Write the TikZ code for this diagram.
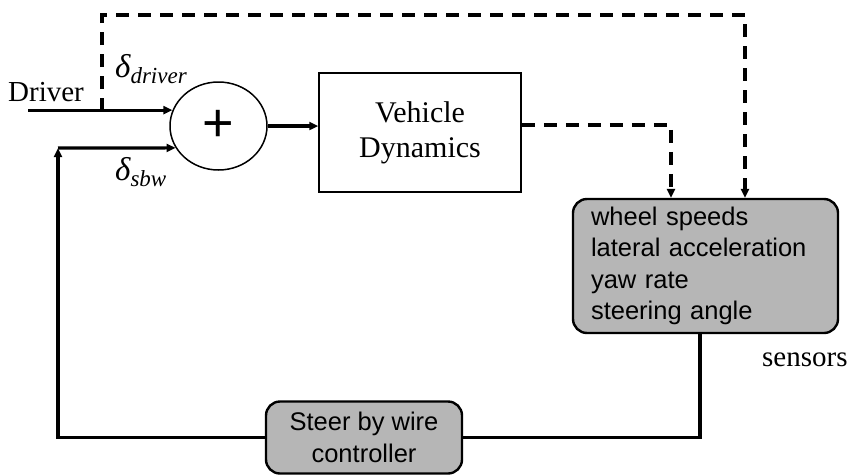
\documentclass[tikz,border=0pt]{standalone}
\usepackage{fontspec}
\setmainfont{Liberation Serif}
\newfontfamily\sensfont{Liberation Sans}
\usetikzlibrary{shapes.geometric,arrows.meta}
\definecolor{boxgray}{RGB}{182,182,182}
\newcommand{\deltalbl}[1]{{\fontsize{33}{33}\selectfont\itshape δ}\raisebox{-6pt}{\fontsize{23}{23}\selectfont\itshape #1}}
\begin{document}
\begin{tikzpicture}[x=1pt,y=-1pt,
  tip/.style={-{Triangle[length=9pt,width=8pt]}},
  solidline/.style={line width=3.2pt, line join=miter},
  solidarrow/.style={solidline, tip},
  dashline/.style={line width=4.2pt, dash pattern=on 13pt off 9pt, line join=miter},
  dasharrow/.style={dashline, tip},
  serif/.style={inner sep=0pt, font=\fontsize{29}{34}\selectfont},
  graybox/.style={draw, fill=boxgray, line width=2.4pt, rounded corners=14pt},
  sanstext/.style={font=\sensfont\fontsize{25.5}{31.5}\selectfont}
]
\useasboundingbox (0,0) rectangle (850,474);

% nodes
\node[serif, anchor=base west] (drv) at (8,101) {Driver};
\node[ellipse, draw, line width=1.5pt, minimum width=97pt, minimum height=88pt, inner sep=0pt]
  (sum) at (218.5,126) {\sensfont\fontsize{54}{54}\selectfont +};
\node[draw, line width=1.5pt, minimum width=202pt, minimum height=119pt, align=center,
  font=\fontsize{30}{35}\selectfont] (vd) at (420,132.5) {Vehicle\\Dynamics};
\node[graybox, sanstext, text width=229pt, inner xsep=18pt, minimum height=134pt, align=left]
  (sens) at (705.5,266) {wheel speeds\\lateral acceleration\\yaw rate\\steering angle};
\node[graybox, sanstext, minimum width=196pt, minimum height=72pt, align=center,
  font=\sensfont\fontsize{25.5}{32}\selectfont] (ctrl) at (364,437.5) {Steer by wire\\controller};
\node[serif, anchor=base west] (senslbl) at (762,366) {sensors};
\node[inner sep=0pt, anchor=base west] (dd) at (115,77) {\deltalbl{driver}};
\node[inner sep=0pt, anchor=base west] (ds) at (115,180) {\deltalbl{sbw}};

% coordinates
\coordinate (dstart) at (28,111);
\coordinate (br) at (102,111);
\coordinate (tl) at (102,15);
\coordinate (tr) at (745,15);
\coordinate (vc) at (671,125);
\coordinate (fb) at (700,437.5);
\coordinate (corner) at (58,148);

% connectors
\draw[solidarrow] (sum.161.8 -| dstart) -- (sum.161.8);
\draw[dasharrow] (br) -- (tl) -- (tr) -- (tr |- sens.north);
\draw[solidarrow] (sum.east) -- (sum.east -| vd.west);
\draw[dasharrow] (vd.east |- vc) -- (vc) -- (vc |- sens.north);
\draw[solidline] (sens.south -| fb) -- (fb) -- (ctrl.east);
\draw[solidarrow] (ctrl.west) -- (ctrl.west -| corner) -- (corner);
\draw[solidarrow] (corner) -- (sum.207.6);
\end{tikzpicture}
\end{document}
